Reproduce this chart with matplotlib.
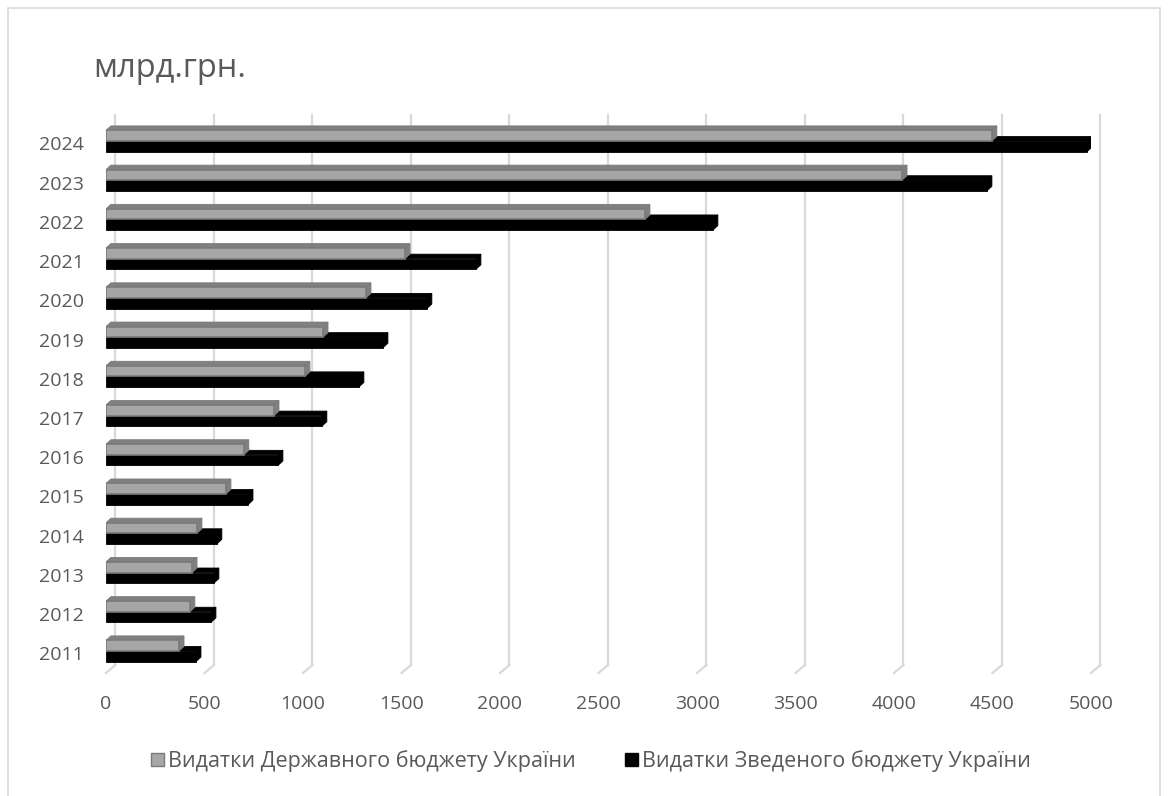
import matplotlib.pyplot as plt
from matplotlib.patches import Polygon, Patch, Rectangle

# ===============================
# Data (млрд. грн.)
# ===============================
years = [2011, 2012, 2013, 2014, 2015, 2016, 2017, 2018, 2019, 2020, 2021, 2022, 2023, 2024]
state_budget = [371, 426, 437, 462, 609, 700, 853, 1010, 1102, 1320, 1518, 2736, 4041, 4497]
consolidated_budget = [457, 533, 548, 563, 721, 873, 1096, 1284, 1406, 1629, 1878, 3081, 4472, 4980]

series_labels = ["Видатки Державного бюджету України", "Видатки Зведеного бюджету України"]
x_ticks = [0, 500, 1000, 1500, 2000, 2500, 3000, 3500, 4000, 4500, 5000]

# ===============================
# Style
# ===============================
TEXT = "#595959"
GRID = "#d9d9d9"
GREY_FRONT = "#a6a6a6"
GREY_DARK = "#808080"
GREY_EDGE = "#7a7a7a"
BLACK = "#000000"
FONT = "Open Sans"

BAR_H = 0.27      # front face height (category units)
DX = 25           # depth offset along x (value units)
DY = 0.115        # depth offset along y (category units)
GRID_DX = 48      # back wall offset for gridlines
Y_TOP, Y_BOT, Y_BACK = 13.663, -0.561, -0.357

fig = plt.figure(figsize=(11.69, 7.96), dpi=100)
ax = fig.add_axes([106 / 1169, 123 / 796, 985 / 1169, 558 / 796])
ax.set_xlim(0, 5000)
ax.set_ylim(Y_BOT, Y_TOP)
for s in ax.spines.values():
    s.set_visible(False)

# gridlines on the back wall with a short floor segment
for t in x_ticks:
    ax.plot([t + GRID_DX, t + GRID_DX], [Y_BACK, Y_TOP], color=GRID, lw=1.6,
            zorder=0, clip_on=False)
    ax.plot([t, t + GRID_DX], [Y_BOT, Y_BACK], color=GRID, lw=1.6,
            zorder=0, clip_on=False)

ypos = list(range(len(years)))


def bar3d(y0, v, face, edge, z):
    # top face
    ax.add_patch(Polygon([(0, y0 + BAR_H), (v, y0 + BAR_H), (v + DX, y0 + BAR_H + DY),
                          (DX, y0 + BAR_H + DY)], closed=True, facecolor=face,
                         edgecolor=edge, lw=0.6, zorder=z))
    # side face
    ax.add_patch(Polygon([(v, y0), (v + DX, y0 + DY), (v + DX, y0 + BAR_H + DY),
                          (v, y0 + BAR_H)], closed=True, facecolor=face,
                         edgecolor=edge, lw=0.6, zorder=z))


# black bars (lower, drawn first so grey sits in front of their top)
for y, v in zip(ypos, consolidated_budget):
    bar3d(y - BAR_H, v, BLACK, BLACK, 2)
ax.barh([y - BAR_H / 2 for y in ypos], consolidated_budget, height=BAR_H,
        color=BLACK, edgecolor=BLACK, lw=0.6, zorder=2)

# grey bars (upper)
for y, v in zip(ypos, state_budget):
    bar3d(y, v, GREY_DARK, GREY_EDGE, 3)
ax.barh([y + BAR_H / 2 for y in ypos], state_budget, height=BAR_H,
        color=GREY_FRONT, edgecolor=GREY_EDGE, lw=1.2, zorder=3)

ax.set_yticks([y - 0.06 for y in ypos])
ax.set_yticklabels([str(y) for y in years])
ax.set_xticks(x_ticks)
ax.set_xticklabels([str(t) for t in x_ticks])
ax.tick_params(axis="both", length=0, colors=TEXT, labelsize=14)
ax.tick_params(axis="x", pad=16)
ax.tick_params(axis="y", pad=16)
for lab in ax.get_xticklabels() + ax.get_yticklabels():
    lab.set_fontfamily(FONT)

# title
fig.text(93 / 1169, 1 - 77 / 796, "млрд.грн.", fontsize=23.5, color=TEXT,
         family=FONT, va="baseline", ha="left")

# legend
handles = [Patch(facecolor=GREY_FRONT, edgecolor=GREY_EDGE, label=series_labels[0]),
           Patch(facecolor=BLACK, edgecolor=BLACK, label=series_labels[1])]
fig.legend(handles=handles, loc="center", bbox_to_anchor=(591 / 1169, 1 - 761 / 796),
           ncol=2, frameon=False, handlelength=0.6, handleheight=0.6,
           handletextpad=0.2, columnspacing=2.3,
           prop={"family": FONT, "size": 15.5}, labelcolor=TEXT)

# outer chart border
fig.add_artist(Rectangle((8 / 1169, -0.01), 1152 / 1169, 1 - 8 / 796 + 0.01,
                         transform=fig.transFigure, fill=False,
                         edgecolor=GRID, lw=1.2))

fig.savefig("out.png", dpi=100)
